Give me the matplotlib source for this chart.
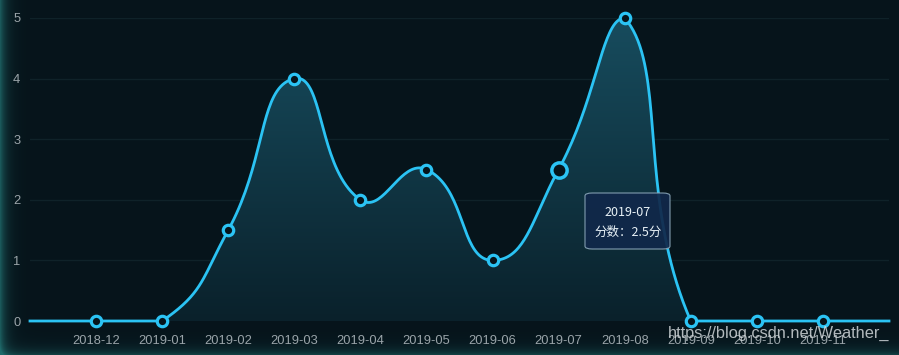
import numpy as np
import matplotlib.pyplot as plt
from matplotlib.colors import LinearSegmentedColormap
from matplotlib.patches import FancyBboxPatch, Polygon

plt.rcParams['font.family'] = ['Noto Sans CJK SC', 'DejaVu Sans']

months = ['2018-11', '2018-12', '2019-01', '2019-02', '2019-03', '2019-04', '2019-05',
          '2019-06', '2019-07', '2019-08', '2019-09', '2019-10', '2019-11', '2019-12']
scores = [0, 0, 0, 1.5, 4, 2, 2.5, 1, 2.5, 5, 0, 0, 0, 0]
hover_idx = 8

W, H = 899, 355
bg = '#06141b'
line_c = '#2bc3f4'

# echarts-like smoothing, done in pixel space
x = np.arange(len(scores), dtype=float)
y = np.array(scores, dtype=float)
sx, sy = 859 / (len(x) - 1), 303 / 5
px = np.column_stack([x * sx, y * sy])
lo, hi = px.min(axis=0), px.max(axis=0)
smooth = 0.5
cps = []
for i in range(len(px)):
    p = px[i]
    if i == 0 or i == len(px) - 1:
        cps.append((p.copy(), p.copy()))
        continue
    prev, nxt = px[i - 1], px[i + 1]
    v = (nxt - prev) * smooth
    d0 = np.linalg.norm(p - prev)
    d1 = np.linalg.norm(p - nxt)
    s = d0 + d1
    c0 = np.clip(p - v * d0 / s, lo, hi)
    c1 = np.clip(p + v * d1 / s, lo, hi)
    cps.append((c0, c1))
t = np.linspace(0, 1, 40)[:, None]
curve = []
for i in range(len(px) - 1):
    p0, p3 = px[i], px[i + 1]
    p1, p2 = cps[i][1], cps[i + 1][0]
    seg = (1 - t) ** 3 * p0 + 3 * (1 - t) ** 2 * t * p1 + 3 * (1 - t) * t ** 2 * p2 + t ** 3 * p3
    curve.append(seg)
curve = np.vstack(curve)
cx, cy = curve[:, 0] / sx, curve[:, 1] / sy

fig = plt.figure(figsize=(W / 100, H / 100), dpi=100, facecolor=bg)

# edge glow
gax = fig.add_axes([0, 0, 1, 1])
gx = np.arange(W)
gy = np.arange(H)[:, None]
glow = np.exp(-gx / 6.0)[None, :] * 0.8 + np.exp(-(H - 1 - gy) / 6.0) * 0.5
glow = np.clip(glow, 0, 1)
glow_cmap = LinearSegmentedColormap.from_list('g', [bg, '#1f6a6a'])
gax.imshow(glow, cmap=glow_cmap, vmin=0, vmax=1, aspect='auto', extent=[0, W, 0, H], origin='upper')
gax.set_axis_off()

ax = fig.add_axes([30 / W, (H - 321) / H, 859 / W, 303 / H])
ax.set_facecolor('none')
ax.set_xlim(0, len(x) - 1)
ax.set_ylim(0, 5)
for sp in ax.spines.values():
    sp.set_visible(False)

for yy in range(1, 6):
    ax.axhline(yy, color='#0f2229', lw=1, zorder=1)

# gradient area
grad_cmap = LinearSegmentedColormap.from_list('a', ['#0a212b', '#174c5e'])
grad = np.linspace(0, 1, 256)[:, None]
im = ax.imshow(grad, cmap=grad_cmap, aspect='auto', extent=[0, len(x) - 1, 0, 5],
               origin='lower', zorder=2)
poly = Polygon(np.column_stack([np.r_[cx, cx[-1], cx[0]], np.r_[cy, 0, 0]]),
               closed=True, transform=ax.transData, facecolor='none', edgecolor='none')
ax.add_patch(poly)
im.set_clip_path(poly)

ax.plot(cx, cy, color=line_c, lw=2, zorder=3, clip_on=False)
mk = [i for i in range(1, len(x) - 1) if i != hover_idx]
ax.plot(x[mk], y[mk], 'o', ms=7.5, mfc='#06141b', mec=line_c, mew=2.3, zorder=4, clip_on=False)
ax.plot(x[hover_idx], y[hover_idx], 'o', ms=11, mfc='#06141b', mec=line_c, mew=2.5, zorder=4, clip_on=False)

ax.set_xticks(x[1:-1])
ax.set_xticklabels(months[1:-1])
ax.set_yticks(range(0, 6))
ax.tick_params(axis='x', length=0, pad=10, labelsize=9.3, labelcolor='#9aa4a9')
ax.tick_params(axis='y', length=0, pad=7, labelsize=9.3, labelcolor='#9aa4a9')
for lb in ax.get_xticklabels() + ax.get_yticklabels():
    lb.set_family(['Liberation Sans', 'DejaVu Sans'])

# tooltip
tip = FancyBboxPatch((585 / W, (H - 249) / H), 85 / W, 56 / H,
                     boxstyle='round,pad=0,rounding_size=0.008', transform=fig.transFigure,
                     facecolor='#11284a', edgecolor='#8aa6b8', lw=0.8, alpha=0.92, zorder=10)
fig.patches.append(tip)
fig.text(628 / W, (H - 212) / H, months[hover_idx], ha='center', va='center',
         color='#e8f1f6', fontsize=9, fontweight='medium', zorder=11)
fig.text(628 / W, (H - 232) / H, '分数：%s分' % scores[hover_idx], ha='center', va='center',
         color='#e8f1f6', fontsize=9, fontweight='medium', zorder=11)

# watermark
fig.text(889 / W, (H - 333) / H, 'https://blog.csdn.net/Weather_', ha='right', va='center',
         color='#d0d6d9', alpha=0.85, fontsize=11.8, family=['Liberation Sans', 'DejaVu Sans'], zorder=12)

fig.savefig('out.png', dpi=100, facecolor=bg)
